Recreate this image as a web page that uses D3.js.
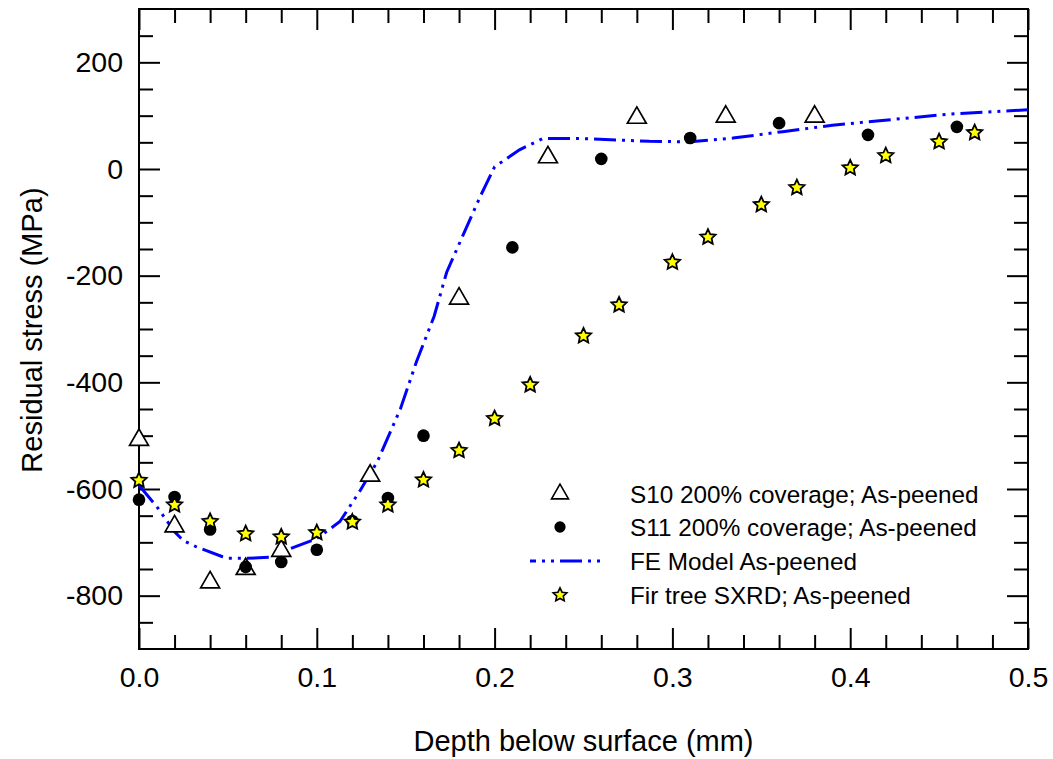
<!DOCTYPE html>
<html>
<head>
<meta charset="utf-8">
<script src="https://cdn.jsdelivr.net/npm/d3@7"></script>
<style>
  html, body { margin: 0; padding: 0; background: #fff; }
  svg { display: block; font-family: Arial, "Liberation Sans", sans-serif; }
</style>
</head>
<body>
<svg id="chart" width="1053" height="759"></svg>
<script>
// ---- Data ----
const s10X = [0, 0.02, 0.04, 0.06, 0.08, 0.13, 0.18, 0.23, 0.28, 0.33, 0.38];
const s10Y = [-508, -670, -775, -750, -716, -575, -243, 22, 96, 98, 98];

const s11X = [0, 0.02, 0.04, 0.06, 0.08, 0.10, 0.12, 0.14, 0.16, 0.21, 0.26, 0.31, 0.36, 0.41, 0.46];
const s11Y = [-620, -615, -676, -746, -737, -714, -660, -617, -500, -147, 19, 58, 86, 64, 79];

const feX = [0, 0.01, 0.02, 0.025, 0.032, 0.047, 0.05, 0.06, 0.074, 0.085, 0.1, 0.113, 0.124, 0.134,
             0.147, 0.156, 0.166, 0.173, 0.182, 0.192, 0.2, 0.214, 0.227, 0.25, 0.287, 0.31, 0.334,
             0.362, 0.39, 0.418, 0.456, 0.5];
const feY = [-593, -633, -680, -697, -708, -727, -730, -730, -728, -712, -693, -661, -605, -549,
             -450, -362, -276, -194, -126, -51, 4, 36, 57, 57, 52, 51, 58,
             70, 82, 91, 103, 111];

const starX = [0, 0.02, 0.04, 0.06, 0.08, 0.10, 0.12, 0.14, 0.16, 0.18, 0.20, 0.22, 0.25, 0.27,
               0.30, 0.32, 0.35, 0.37, 0.40, 0.42, 0.45, 0.47];
const starY = [-584, -630, -661, -684, -690, -682, -662, -630, -583, -528, -468, -405, -313, -255,
               -175, -128, -67, -35, 2, 25, 51, 68];

const xTicks = [0, 0.1, 0.2, 0.3, 0.4, 0.5];
const yTicks = [-800, -600, -400, -200, 0, 200];
const legendLabels = ["S10 200% coverage; As-peened", "S11 200% coverage; As-peened",
                      "FE Model As-peened", "Fir tree SXRD; As-peened"];
const xTitle = "Depth below surface (mm)";
const yTitle = "Residual stress (MPa)";

// ---- Layout ----
const svg = d3.select("#chart");
const L = 139, R = 1028, T = 9, B = 649;
const x = d3.scaleLinear().domain([0, 0.5]).range([L, R]);
const y = d3.scaleLinear().domain([-900, 300]).range([B, T]);

const majorLen = 21, minorLen = 14;
const xMinor = d3.range(0, 0.5001, 0.02).filter(v => Math.abs(v * 10 - Math.round(v * 10)) > 1e-6);
const yMinor = d3.range(-900, 301, 50).filter(v => v % 200 !== 0 && v !== -900 && v !== 300);

function styleAxis(g) {
  g.select(".domain").remove();
  g.selectAll(".tick line").attr("stroke", "#000").attr("stroke-width", 2);
  g.selectAll(".tick text").attr("fill", "#000").attr("font-size", 28.5)
    .attr("font-family", "Arial, 'Liberation Sans', sans-serif");
}

// bottom
svg.append("g").attr("transform", `translate(0,${B})`)
  .call(d3.axisBottom(x).tickValues(xTicks).tickFormat(d3.format(".1f")).tickSize(-majorLen).tickPadding(18))
  .call(styleAxis);
svg.append("g").attr("transform", `translate(0,${B})`)
  .call(d3.axisBottom(x).tickValues(xMinor).tickFormat("").tickSize(-minorLen)).call(styleAxis);
// top
svg.append("g").attr("transform", `translate(0,${T})`)
  .call(d3.axisTop(x).tickValues(xTicks).tickFormat("").tickSize(-majorLen)).call(styleAxis);
svg.append("g").attr("transform", `translate(0,${T})`)
  .call(d3.axisTop(x).tickValues(xMinor).tickFormat("").tickSize(-minorLen)).call(styleAxis);
// left
svg.append("g").attr("transform", `translate(${L},0)`)
  .call(d3.axisLeft(y).tickValues(yTicks).tickFormat(d => d3.format("d")(d).replace("−", "-")).tickSize(-majorLen).tickPadding(16))
  .call(styleAxis);
svg.append("g").attr("transform", `translate(${L},0)`)
  .call(d3.axisLeft(y).tickValues(yMinor).tickFormat("").tickSize(-minorLen)).call(styleAxis);
// right
svg.append("g").attr("transform", `translate(${R},0)`)
  .call(d3.axisRight(y).tickValues(yTicks).tickFormat("").tickSize(-majorLen)).call(styleAxis);
svg.append("g").attr("transform", `translate(${R},0)`)
  .call(d3.axisRight(y).tickValues(yMinor).tickFormat("").tickSize(-minorLen)).call(styleAxis);

// frame
svg.append("rect").attr("x", L).attr("y", T).attr("width", R - L).attr("height", B - T)
  .attr("fill", "none").attr("stroke", "#000").attr("stroke-width", 2);

// axis titles
svg.append("text").attr("x", (L + R) / 2).attr("y", 751).attr("text-anchor", "middle")
  .attr("font-size", 29).attr("fill", "#000").text(xTitle);
svg.append("text").attr("transform", `translate(42,330) rotate(-90)`).attr("text-anchor", "middle")
  .attr("font-size", 29).attr("fill", "#000").text(yTitle);

// ---- Marks ----
const plot = svg.append("g");
const dash = "22,6,3,6,3,6";

const fe = feX.map((v, i) => [v, feY[i]]);
plot.append("path").datum(fe)
  .attr("d", d3.line().x(d => x(d[0])).y(d => y(d[1])))
  .attr("fill", "none").attr("stroke", "#0000ff").attr("stroke-width", 3)
  .attr("stroke-dasharray", dash);

// custom fat star
const fatStar = {
  draw(ctx, size) {
    const r = Math.sqrt(size / 1.2);
    const ri = r * 0.48;
    for (let k = 0; k < 10; k++) {
      const a = -Math.PI / 2 + k * Math.PI / 5;
      const rr = k % 2 === 0 ? r : ri;
      const px = rr * Math.cos(a), py = rr * Math.sin(a);
      if (k === 0) ctx.moveTo(px, py); else ctx.lineTo(px, py);
    }
    ctx.closePath();
  }
};

const tri = d3.symbol().type(d3.symbolTriangle).size(155);
const circ = d3.symbol().type(d3.symbolCircle).size(125);
const star = d3.symbol().type(fatStar).size(78);

plot.selectAll(".s10").data(s10X.map((v, i) => [v, s10Y[i]])).join("path")
  .attr("class", "s10").attr("d", tri)
  .attr("transform", d => `translate(${x(d[0])},${y(d[1])})`)
  .attr("fill", "#fff").attr("stroke", "#000").attr("stroke-width", 1.7);

plot.selectAll(".s11").data(s11X.map((v, i) => [v, s11Y[i]])).join("path")
  .attr("class", "s11").attr("d", circ)
  .attr("transform", d => `translate(${x(d[0])},${y(d[1])})`)
  .attr("fill", "#000");

plot.selectAll(".star").data(starX.map((v, i) => [v, starY[i]])).join("path")
  .attr("class", "star").attr("d", star)
  .attr("transform", d => `translate(${x(d[0])},${y(d[1])})`)
  .attr("fill", "#ffff00").attr("stroke", "#000").attr("stroke-width", 1.8);

// ---- Legend ----
const lg = svg.append("g");
const rowsY = [494, 527, 561, 595];
const symX = 560, textX = 630;
lg.append("path").attr("d", d3.symbol().type(d3.symbolTriangle).size(125)())
  .attr("transform", `translate(${symX},${rowsY[0]})`)
  .attr("fill", "#fff").attr("stroke", "#000").attr("stroke-width", 1.6);
lg.append("path").attr("d", d3.symbol().type(d3.symbolCircle).size(100)())
  .attr("transform", `translate(${symX},${rowsY[1]})`).attr("fill", "#000");
lg.append("line").attr("x1", 530).attr("x2", 601).attr("y1", rowsY[2]).attr("y2", rowsY[2])
  .attr("stroke", "#0000ff").attr("stroke-width", 3)
  .attr("stroke-dasharray", dash).attr("stroke-dashoffset", 16);
lg.append("path").attr("d", d3.symbol().type(fatStar).size(62)())
  .attr("transform", `translate(${symX},${rowsY[3]})`)
  .attr("fill", "#ffff00").attr("stroke", "#000").attr("stroke-width", 1.6);
lg.selectAll("text").data(legendLabels).join("text")
  .attr("x", textX).attr("y", (d, i) => rowsY[i] + 9)
  .attr("font-size", 24.3).attr("fill", "#000").text(d => d);
</script>
</body>
</html>
